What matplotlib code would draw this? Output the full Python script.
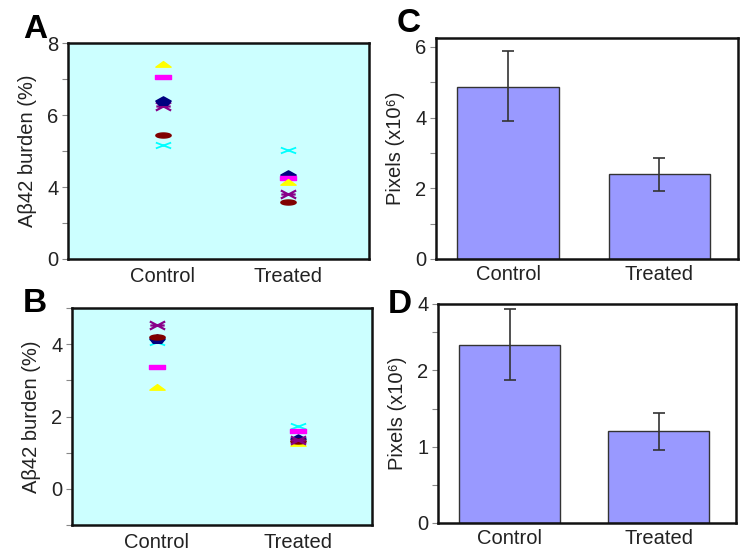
import numpy as np
import matplotlib
matplotlib.use("Agg")
import matplotlib.pyplot as plt
from matplotlib.path import Path
from matplotlib.ticker import FixedLocator, FixedFormatter

plt.rcParams['font.family'] = ['Liberation Sans', 'DejaVu Sans']

# ---------------- data ----------------
categories = ['Control', 'Treated']

# Panel A: individual animals (Abeta42 burden %)
a_triangle = [7.42, 4.13]
a_rect = [7.06, 4.25]
a_house = [6.38, 4.34]
a_star = [6.24, 3.81]
a_oval = [5.45, 3.57]
a_cross = [5.16, 5.04]
a_tick_vals = [2, 4, 6, 8]
a_tick_labels = ['0', '4', '6', '8']

# Panel B
b_triangle = [2.81, 1.27]
b_rect = [3.37, 1.60]
b_house = [4.14, 1.38]
b_star = [4.54, 1.36]
b_oval = [4.21, 1.32]
b_cross = [4.05, 1.74]
b_tick_vals = [0, 2, 4]
b_tick_labels = ['0', '2', '4']

# Panel C: pixels (x10^6)
c_means = [4.87, 2.39]
c_err_up = [1.00, 0.47]
c_err_dn = [0.97, 0.48]
c_tick_vals = [0, 2, 4, 6]
c_tick_labels = ['0', '2', '4', '6']

# Panel D
d_means = [2.33, 1.20]
d_err_up = [0.47, 0.24]
d_err_dn = [0.46, 0.24]
d_tick_vals = [0, 1, 2, 2.87]
d_tick_labels = ['0', '1', '2', '4']

# ---------------- styles ----------------
BG = '#ccffff'
BAR = '#9999ff'
TXT = '#222222'
FS = 14.5

def filled(verts):
    return Path(verts + [verts[0]], [Path.MOVETO] + [Path.LINETO] * (len(verts) - 1) + [Path.CLOSEPOLY])

m_tri = filled([(-1, -0.35), (1, -0.35), (0, 0.38)])
m_rect = filled([(-1, -0.32), (1, -0.32), (1, 0.32), (-1, 0.32)])
m_house = filled([(-0.9, 0.05), (0, 0.55), (0.9, 0.05), (0.5, -0.45), (-0.5, -0.45)])
t = np.linspace(0, 2 * np.pi, 40)
m_oval = filled([(np.cos(a), 0.33 * np.sin(a)) for a in t[:-1]])
m_star = Path([(-0.85, -0.45), (0.85, 0.45), (-0.85, 0.45), (0.85, -0.45), (-0.8, 0), (0.8, 0)],
              [Path.MOVETO, Path.LINETO, Path.MOVETO, Path.LINETO, Path.MOVETO, Path.LINETO])
m_cross = Path([(-1, -0.38), (1, 0.38), (-1, 0.38), (1, -0.38)],
               [Path.MOVETO, Path.LINETO, Path.MOVETO, Path.LINETO])

fig = plt.figure(figsize=(7.5, 5.6), dpi=100)

def style_axes(ax, ylim, ticks, labels, minors, xlim, xpad):
    ax.set_xlim(*xlim)
    ax.set_ylim(*ylim)
    ax.yaxis.set_major_locator(FixedLocator(ticks))
    ax.yaxis.set_major_formatter(FixedFormatter(labels))
    ax.yaxis.set_minor_locator(FixedLocator(minors))
    ax.set_xticks(range(len(categories)))
    ax.set_xticklabels(categories)
    ax.tick_params(axis='x', length=0, pad=xpad, labelsize=FS, labelcolor=TXT)
    ax.tick_params(axis='y', which='both', direction='out', length=4, width=0.8,
                   color='#888888', pad=3, labelsize=FS, labelcolor=TXT)
    for s in ax.spines.values():
        s.set_linewidth(1.8)
        s.set_color('#111111')

def scatter_panel(rect, tri, rec, house, star, oval, cross, ylim, ticks, labels, minors, xlim, order):
    ax = fig.add_axes(rect)
    ax.set_facecolor(BG)
    x = np.arange(len(categories))
    specs = {
        'cross': (cross, m_cross, '#00ffff', 1.3),
        'oval': (oval, m_oval, '#800000', 1),
        'star': (star, m_star, '#880088', 1.6),
        'house': (house, m_house, '#000080', 1),
        'rect': (rec, m_rect, '#ff00ff', 1),
        'tri': (tri, m_tri, '#ffff00', 1),
    }
    for k in order:
        vals, mk, col, lw = specs[k]
        ax.plot(x, vals, linestyle='none', marker=mk, markersize=11,
                color=col, markeredgecolor=col, markeredgewidth=lw)
    style_axes(ax, ylim, ticks, labels, minors, xlim, 6)
    ax.set_ylabel('A\u03b242 burden (%)', fontsize=FS, color=TXT, labelpad=7)
    return ax

def bar_panel(rect, means, up, dn, ylim, ticks, labels, minors):
    ax = fig.add_axes(rect)
    x = np.arange(len(categories))
    ax.bar(x, means, width=0.675, color=BAR, edgecolor='#333333', linewidth=1.0, zorder=2)
    ax.errorbar(x, means, yerr=[dn, up], fmt='none', ecolor='#333333',
                elinewidth=1.2, capsize=4.5, capthick=1.2, zorder=3)
    style_axes(ax, ylim, ticks, labels, minors, (-0.48, 1.52), 4)
    ax.set_ylabel('Pixels (x10\u2076)', fontsize=FS, color=TXT, labelpad=7)
    return ax

axA = scatter_panel([0.0907, 0.5375, 0.4013, 0.3857], a_triangle, a_rect, a_house, a_star, a_oval, a_cross,
                    (2, 8), a_tick_vals, a_tick_labels, [3, 5, 7], (-0.76, 1.65),
                    ['cross', 'oval', 'star', 'house', 'rect', 'tri'])
axB = scatter_panel([0.096, 0.0625, 0.400, 0.3875], b_triangle, b_rect, b_house, b_star, b_oval, b_cross,
                    (-1, 5), b_tick_vals, b_tick_labels, [-1, 1, 3, 5], (-0.60, 1.52),
                    ['tri', 'cross', 'house', 'oval', 'star', 'rect'])
axC = bar_panel([0.5813, 0.5375, 0.4027, 0.3946], c_means, c_err_up, c_err_dn,
                (0, 6.25), c_tick_vals, c_tick_labels, [1, 3, 5])
axD = bar_panel([0.584, 0.0661, 0.3973, 0.3911], d_means, d_err_up, d_err_dn,
                (0, 2.87), d_tick_vals, d_tick_labels, [0.5, 1.5, 2.5])

for lab, (px, py) in zip(['A', 'B', 'C', 'D'], [(23, 38), (23, 312), (397, 32), (388, 313)]):
    fig.text(px / 750, 1 - py / 560, lab, fontsize=24, fontweight='bold', color='black',
             ha='left', va='baseline')

fig.savefig('out.png', dpi=100)
